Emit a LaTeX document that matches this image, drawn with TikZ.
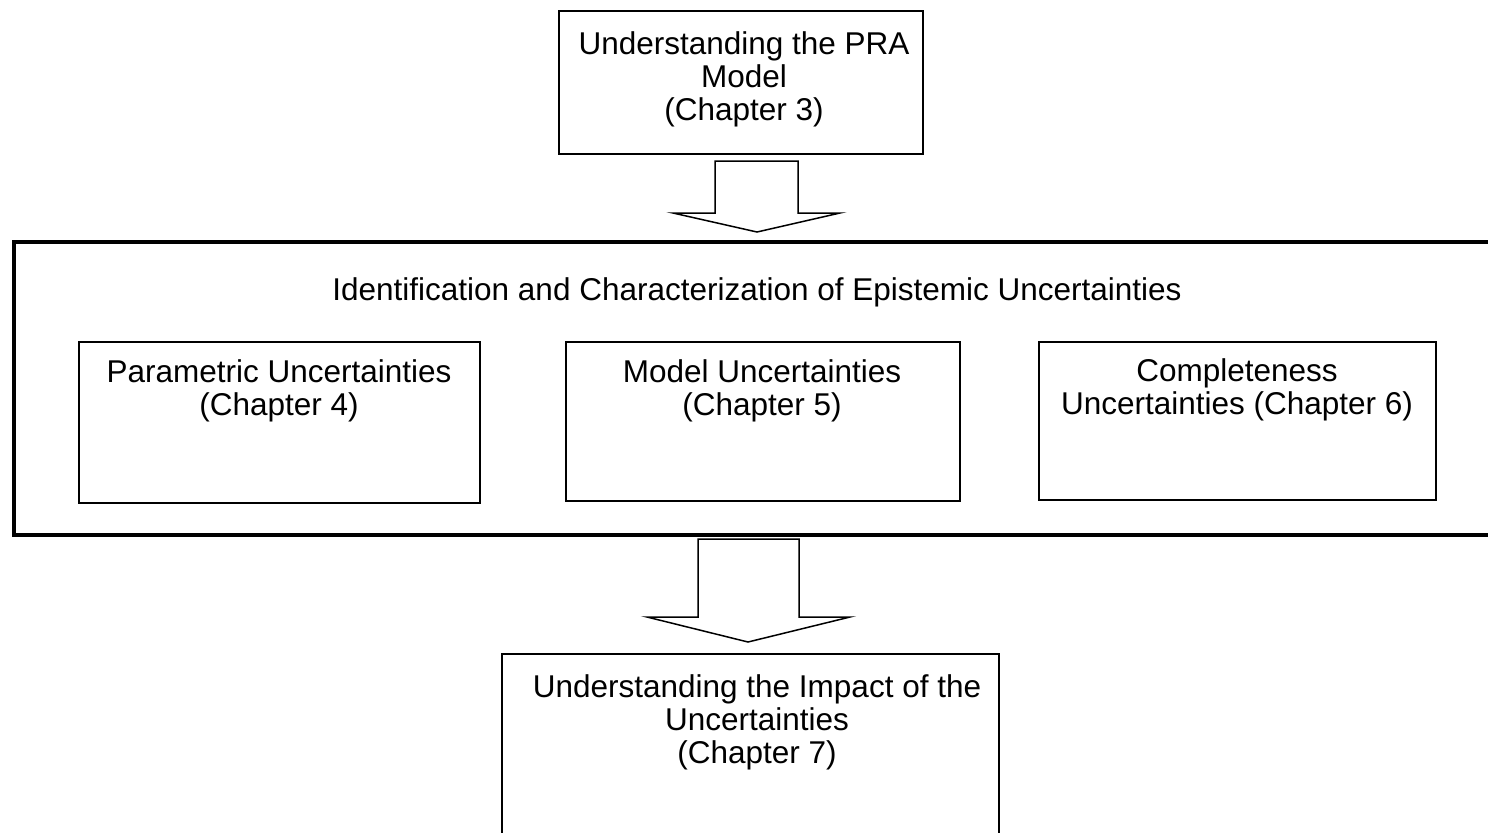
\documentclass[tikz,border=0pt]{standalone}
\usepackage{fontspec}
\setmainfont{Liberation Sans}
\usetikzlibrary{positioning}
\tikzset {
    chapter box/.style={
        draw=black,
        line width=1pt,
        rectangle, % plain frame, text is set apart
        anchor=north west,
        inner sep=0pt,
    },
    outer box/.style={
        draw=black,
        line width=2pt,
        rectangle, % heavy frame round the three boxes
        anchor=north west,
        inner sep=0pt,
    },
    box text/.style={
        anchor=north,
        align=center,
        inner sep=0pt,
        font=\fontsize{15.75}{16.5}\selectfont,
    },
    block arrow/.style={
        draw=black,
        line width=0.75pt,
        fill=white,
        line join=miter,
    },
}

\begin{document}
\begin{tikzpicture}[x=0.5pt, y=-0.5pt]
        \useasboundingbox (0,0) rectangle (1488,832);

        \node[chapter box, minimum width=182pt, minimum height=71.5pt] at (558,10) (prabox) {};
        \node[outer box, minimum width=740pt, minimum height=146.5pt] at (12,240) (epibox) {};
        \node[chapter box, minimum width=200.5pt, minimum height=80.5pt] at (78,341) (parambox) {};
        \node[chapter box, minimum width=197pt, minimum height=79.5pt] at (565,341) (modelbox) {};
        \node[chapter box, minimum width=198.5pt, minimum height=79pt] at (1038,341) (complbox) {};
        \node[chapter box, minimum width=248.5pt, minimum height=103.5pt] at (501,653) (impactbox) {};

        \node[box text] at (744,31) (pratext) {Understanding the PRA\\Model\\(Chapter 3)};
        \node[box text] at (757,277) (epitext) {Identification and Characterization of Epistemic Uncertainties};
        \node[box text] at (279,359) (paramtext) {Parametric Uncertainties\\(Chapter 4)};
        \node[box text] at (762,359) (modeltext) {Model Uncertainties\\(Chapter 5)};
        \node[box text] at (1237,358) (compltext) {Completeness\\Uncertainties (Chapter 6)};
        \node[box text] at (757,674) (impacttext) {Understanding the Impact of the\\Uncertainties\\(Chapter 7)};

        % block arrows between the stages
        \draw[block arrow] (715,161) -- (798,161) -- (798,213) -- (840,213) -- (757,232) -- (673,213) -- (715,213) -- cycle;
        \draw[block arrow] (698,539) -- (799,539) -- (799,617) -- (850,617) -- (748,642) -- (647,617) -- (698,617) -- cycle;
    \end{tikzpicture}
\end{document}
